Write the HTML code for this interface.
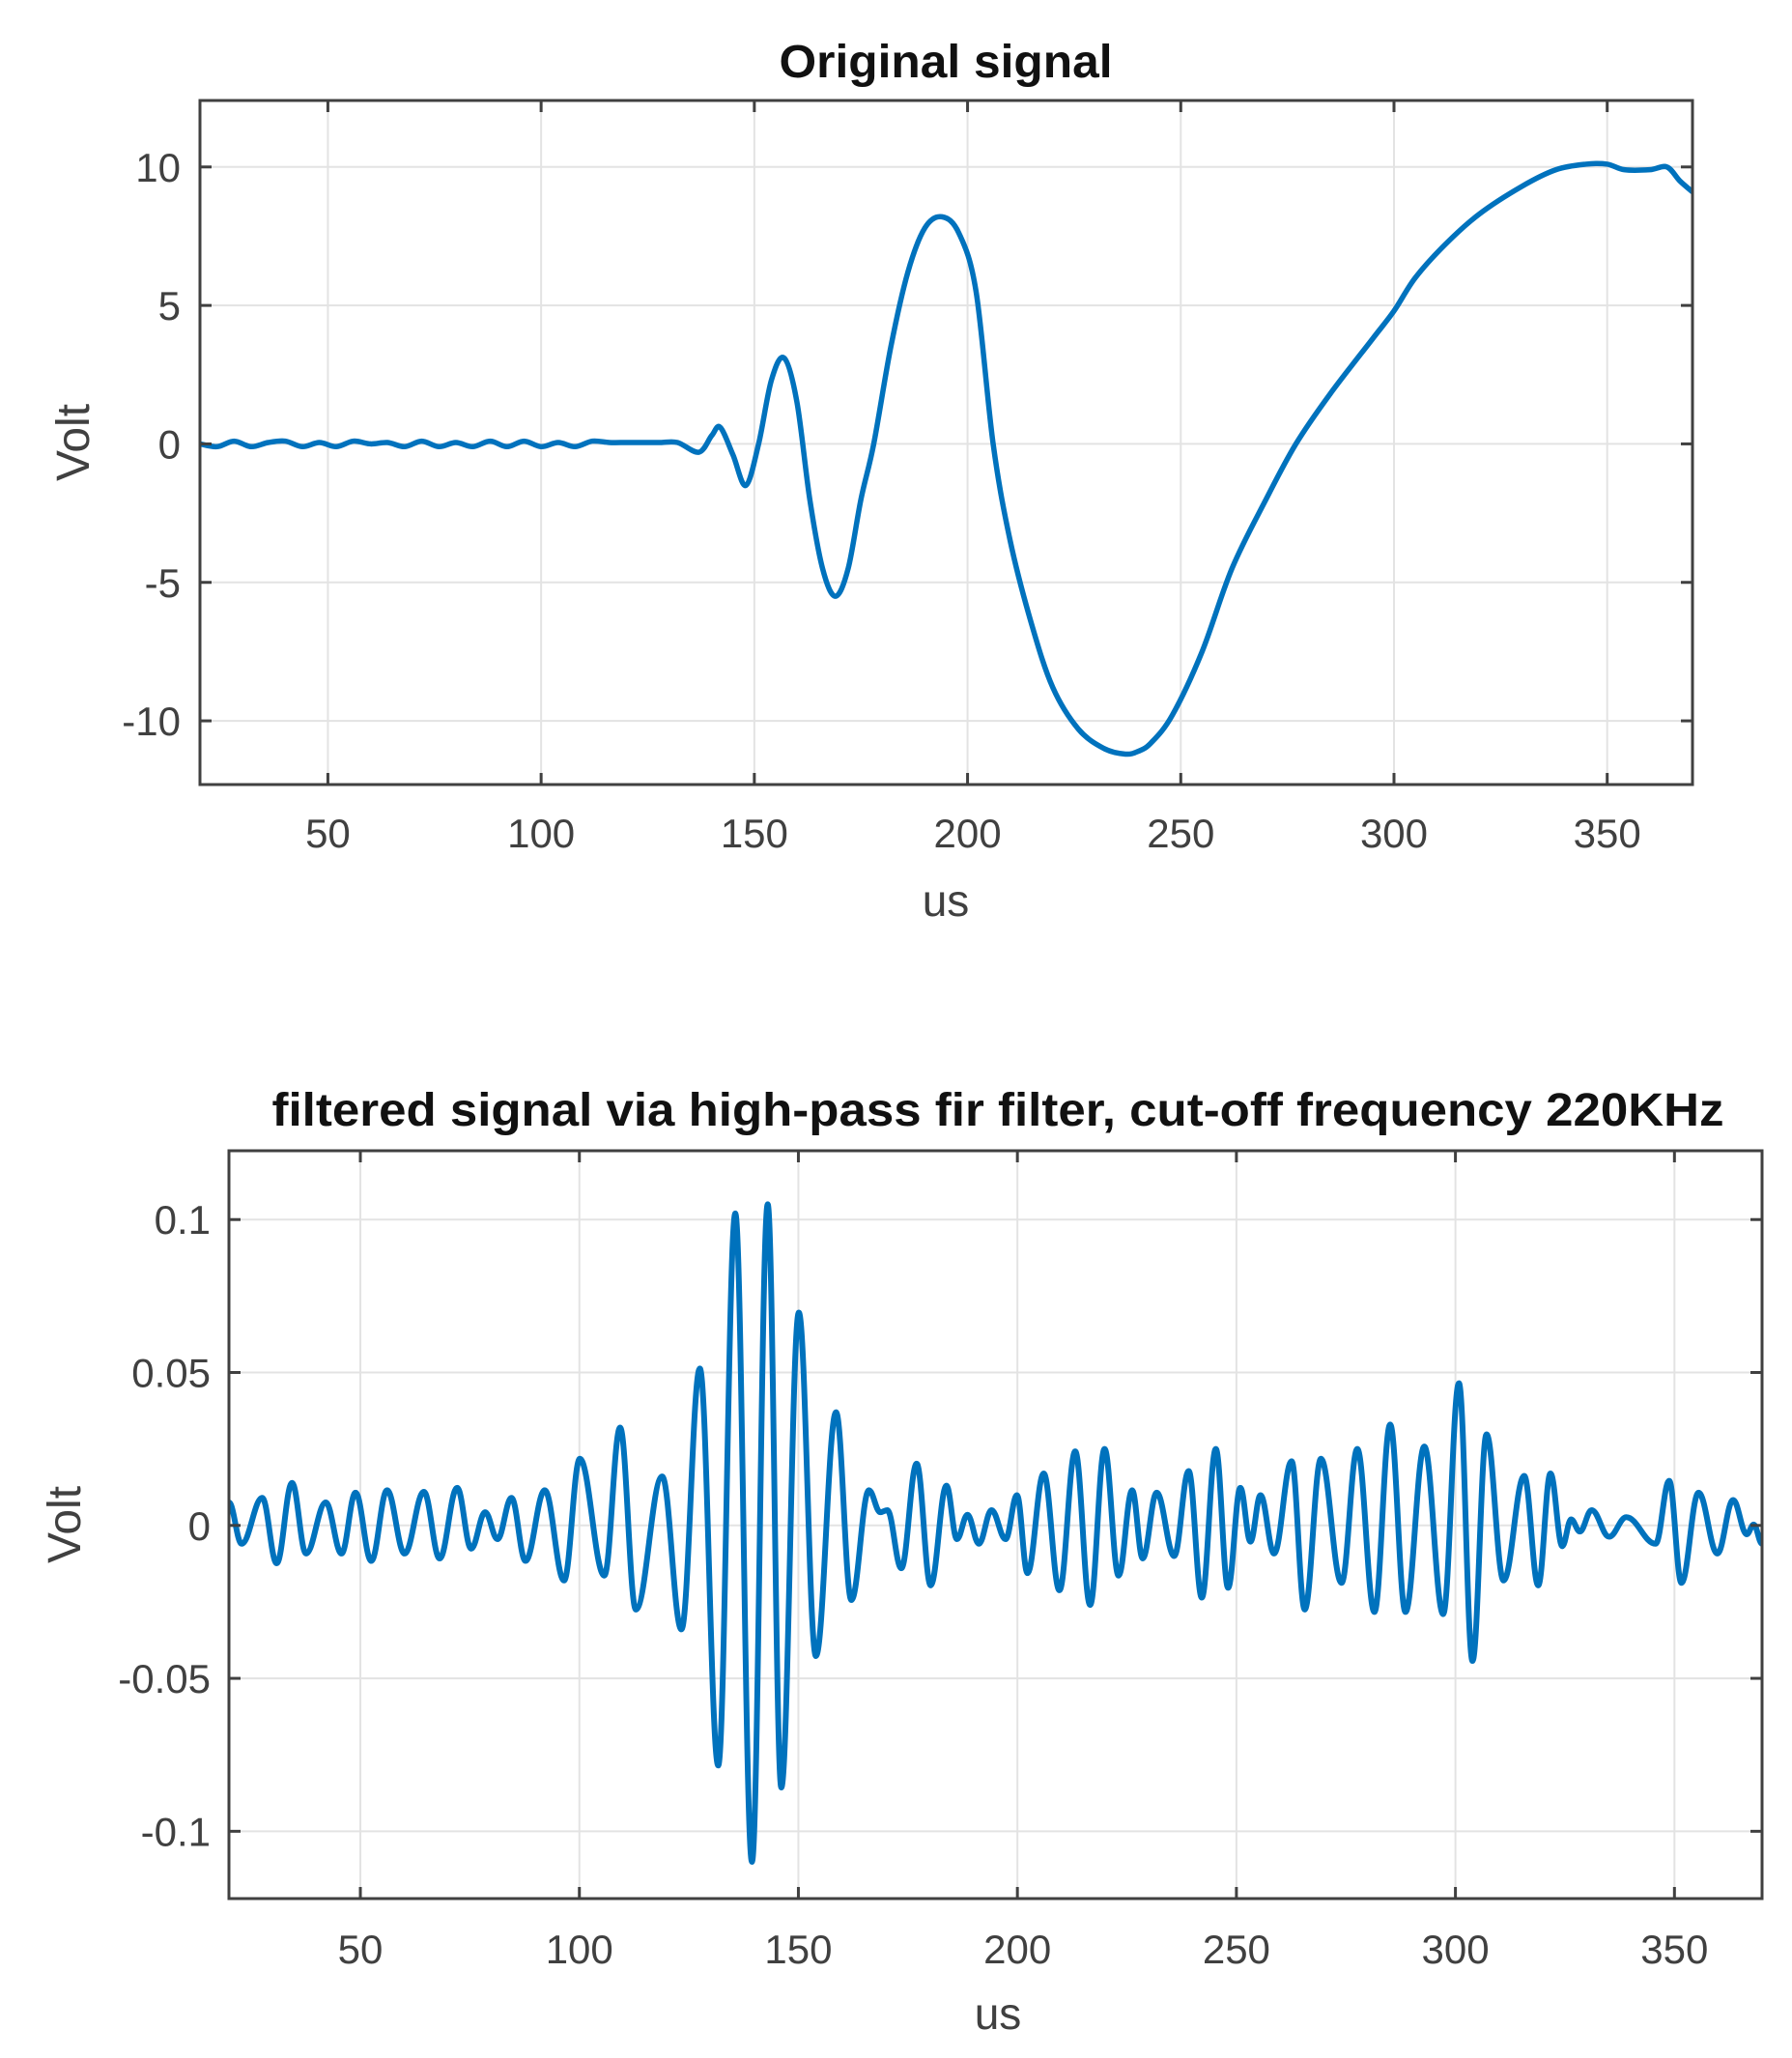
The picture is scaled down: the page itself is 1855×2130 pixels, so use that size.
<!DOCTYPE html>
<html><head><meta charset="utf-8"><style>
html,body{margin:0;padding:0;background:#fff;}
svg{display:block;font-family:"Liberation Sans",Arial,sans-serif;}
</style></head><body>
<svg id="fig" width="1855" height="2130" viewBox="0 0 1855 2130" xmlns="http://www.w3.org/2000/svg">
<rect width="1855" height="2130" fill="#fff"/>
<g id="top"></g>
<g id="bot"></g>
</svg>
<script>
// ---- data: original signal ----
const origT = [20,24,28,32,36,40,44,48,52,56,60,64,68,72,76,80,84,88,92,96,100,104,108,112,116,120,124,128,132,137,140,142,145,148,151,154,157,160,163,166,169,172,175,178,182,186,190,194,198,202,206,210,215,220,226,232,237,240,243,248,255,262,270,277,285,295,300,305,312,320,330,338,345,350,354,360,364,367,370];
const origV = [0,-0.1,0.1,-0.1,0.05,0.1,-0.1,0.05,-0.1,0.1,0,0.05,-0.1,0.1,-0.1,0.05,-0.1,0.1,-0.1,0.1,-0.1,0.05,-0.1,0.1,0.05,0.05,0.05,0.05,0.05,-0.3,0.3,0.6,-0.4,-1.5,0,2.3,3.1,1.5,-2,-4.5,-5.5,-4.5,-2,0,3.5,6.2,7.8,8.2,7.6,5.5,0,-3.5,-6.5,-8.8,-10.3,-11,-11.2,-11.1,-10.8,-9.8,-7.5,-4.5,-2,0,1.8,3.8,4.8,6,7.2,8.3,9.3,9.9,10.1,10.1,9.9,9.9,10,9.5,9.1];
const origXTicks = [50,100,150,200,250,300,350];
const origYTicks = [-10,-5,0,5,10];
const origYTickLabels = ["-10","-5","0","5","10"];

// ---- data: filtered signal (extrema) ----
const filtT = [20,22.9,27.6,30.9,34.4,37.6,42.1,45.7,48.9,52.5,56.1,60.1,64.5,68.1,72.1,75.3,78.5,81.3,84.5,87.7,92.1,96.5,100.1,105.7,109.3,112.9,118.9,123.3,127.5,131.7,135.6,139.4,143.0,146.1,150.1,154.0,158.6,162.1,166.1,168.7,170.3,173.5,177.0,180.2,183.8,186.2,188.6,191.2,194.1,197.3,199.9,202.3,206,209.6,213.2,216.6,219.9,223.1,226.2,228.6,231.8,235.8,239.1,242.1,245.3,248.1,250.9,253.2,255.5,258.6,262.6,265.6,269.3,274.0,277.6,281.5,285.1,288.6,292.9,297.2,300.8,303.9,307.1,311.0,315.7,318.9,321.7,324.4,326.4,328.4,331.1,335.1,339,345.7,348.8,351.6,355.5,359.8,363.4,366.5,368.1,370];
const filtV = [0.0075,-0.006,0.009,-0.0124,0.0139,-0.0092,0.0075,-0.0092,0.0107,-0.0116,0.0115,-0.0092,0.011,-0.0108,0.0123,-0.0076,0.0043,-0.0045,0.009,-0.0116,0.0115,-0.018,0.0218,-0.0164,0.032,-0.0275,0.016,-0.034,0.0513,-0.0785,0.102,-0.110,0.105,-0.0857,0.0696,-0.0427,0.037,-0.0244,0.0115,0.0043,0.005,-0.014,0.0202,-0.0196,0.013,-0.0045,0.0035,-0.006,0.005,-0.0045,0.0099,-0.0156,0.017,-0.0212,0.0242,-0.026,0.025,-0.0164,0.0115,-0.0108,0.0107,-0.01,0.0178,-0.0236,0.025,-0.0204,0.0123,-0.0053,0.0099,-0.0092,0.021,-0.0275,0.0218,-0.0188,0.025,-0.0283,0.033,-0.0283,0.0258,-0.029,0.0465,-0.0443,0.0298,-0.018,0.0162,-0.0196,0.017,-0.0068,0.002,-0.002,0.005,-0.0037,0.0027,-0.006,0.0146,-0.0188,0.0107,-0.0092,0.0083,-0.0029,0.0003,-0.006];
const filtXTicks = [50,100,150,200,250,300,350];
const filtYTicks = [-0.1,-0.05,0,0.05,0.1];
const filtYTickLabels = ["-0.1","-0.05","0","0.05","0.1"];

const NS="http://www.w3.org/2000/svg";
function mk(parent,tag,attrs){const e=document.createElementNS(NS,tag);for(const k in attrs)e.setAttribute(k,attrs[k]);parent.appendChild(e);return e;}

function chart(g,cfg){
  const {L,R,T,B,xmin,xmax,ymin,ymax}=cfg;
  const sx=v=>L+(v-xmin)/(xmax-xmin)*(R-L);
  const sy=v=>B-(v-ymin)/(ymax-ymin)*(B-T);
  cfg.xt.forEach(v=>{const l=mk(g,'line',{x1:sx(v),x2:sx(v),y1:T,y2:B,stroke:'#e3e3e3','stroke-width':2});
    
    });
  cfg.yt.forEach(v=>{const l=mk(g,'line',{x1:L,x2:R,y1:sy(v),y2:sy(v),stroke:'#e3e3e3','stroke-width':2});
    
    });
  const P=cfg.xs.map((x,i)=>[sx(x),sy(cfg.ys[i])]);
  let d='M'+P[0][0]+' '+P[0][1];
  for(let i=1;i<P.length;i++){
    const [x,y]=P[i],[px,py]=P[i-1];
    if(cfg.smooth==='ext'){const dx=x-px;
      d+=' C'+(px+dx*0.38)+' '+py+' '+(x-dx*0.38)+' '+y+' '+x+' '+y;}
    else{ // catmull-rom
      const p0=P[Math.max(0,i-2)],p3=P[Math.min(P.length-1,i+1)];
      const c1x=px+(x-p0[0])/6,c1y=py+(y-p0[1])/6,c2x=x-(p3[0]-px)/6,c2y=y-(p3[1]-py)/6;
      d+=' C'+c1x+' '+c1y+' '+c2x+' '+c2y+' '+x+' '+y;}
  }
  const clip=mk(g,'clipPath',{id:cfg.id+'clip'});mk(clip,'rect',{x:L,y:T,width:R-L,height:B-T});
  const p=mk(g,'path',{d:d,fill:'none',stroke:'#0072BD','stroke-width':cfg.lw,'stroke-linejoin':'round','stroke-linecap':'round','clip-path':'url(#'+cfg.id+'clip)'});
  
  
  const bx=mk(g,'rect',{x:L,y:T,width:R-L,height:B-T,fill:'none',stroke:'#404040','stroke-width':3});
  
  
  cfg.xt.forEach(v=>{
    mk(g,'line',{x1:sx(v),x2:sx(v),y1:B,y2:B-12,stroke:'#404040','stroke-width':3});
    mk(g,'line',{x1:sx(v),x2:sx(v),y1:T,y2:T+12,stroke:'#404040','stroke-width':3});
    const t=mk(g,'text',{x:sx(v),y:cfg.xly,'text-anchor':'middle','font-size':42,fill:'#404040'});t.textContent=String(v);
    
    
  });
  cfg.yt.forEach((v,i)=>{
    mk(g,'line',{x1:L,x2:L+12,y1:sy(v),y2:sy(v),stroke:'#404040','stroke-width':3});
    mk(g,'line',{x1:R,x2:R-12,y1:sy(v),y2:sy(v),stroke:'#404040','stroke-width':3});
    const t=mk(g,'text',{x:cfg.ylx,y:sy(v)+15,'text-anchor':'end','font-size':42,fill:'#404040'});t.textContent=cfg.ytl[i];
    
    
  });
  const ti=mk(g,'text',{x:cfg.tx-cfg.tw/2,y:cfg.ty,'font-size':48,'font-weight':'bold',fill:'#111',textLength:cfg.tw,lengthAdjust:'spacingAndGlyphs'});ti.textContent=cfg.title;
  
  
  const xl=mk(g,'text',{x:cfg.tx,y:cfg.xlabY,'text-anchor':'middle','font-size':46,fill:'#404040'});xl.textContent='us';
  
  
  const yl=mk(g,'text',{x:0,y:0,'text-anchor':'middle','font-size':48,fill:'#404040',transform:'translate('+cfg.ylabX+','+((T+B)/2)+') rotate(-90)'});yl.textContent='Volt';
  
  
}

chart(document.getElementById('top'),{id:'a',L:207,R:1752,T:104,B:812,xmin:20,xmax:370,ymin:-12.3,ymax:12.4,
  xs:origT,ys:origV,smooth:'cr',lw:5.5,xt:origXTicks,yt:origYTicks,ytl:origYTickLabels,
  xly:877,ylx:187,tx:979,ty:80,tw:345,title:'Original signal',xlabY:948,ylabX:92});
chart(document.getElementById('bot'),{id:'b',L:237,R:1824,T:1191,B:1965,xmin:20,xmax:370,ymin:-0.122,ymax:0.1225,
  xs:filtT,ys:filtV,smooth:'ext',lw:6,xt:filtXTicks,yt:filtYTicks,ytl:filtYTickLabels,
  xly:2032,ylx:218,tx:1033,ty:1165,tw:1503,title:'filtered signal via high-pass fir filter, cut-off frequency 220KHz',xlabY:2100,ylabX:83});
</script>
</body></html>
